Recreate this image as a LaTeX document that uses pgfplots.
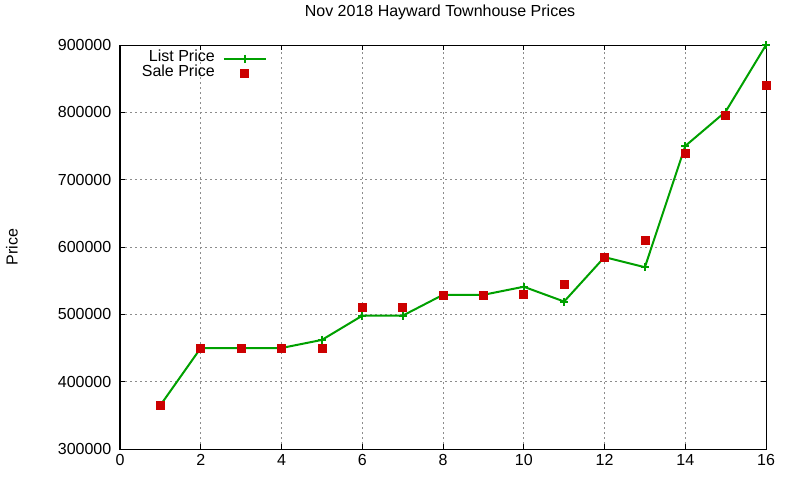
\documentclass[border=0pt]{standalone}
\usepackage{pgfplots}
\pgfplotsset{compat=1.18}
\usepackage{fontspec}
\setmainfont{Liberation Sans}
\definecolor{lgreen}{RGB}{0,160,0}
\definecolor{sred}{RGB}{204,0,0}
\newcommand\cf{\fontsize{12pt}{14pt}\selectfont}
\pgfplotsset{
 legline/.style={legend image code/.code={\draw[##1, mark repeat=2, mark phase=2] plot coordinates {(0pt,0pt) (15.75pt,0pt) (31.5pt,0pt)};}},
 legmark/.style={legend image code/.code={\path[draw=none, fill=none] (0pt,0pt) -- (31.5pt,0pt); \draw[##1] plot[only marks] coordinates {(15.75pt,0pt)};}},
}
\begin{document}
\begin{tikzpicture}
\path[use as bounding box] (0pt,0pt) rectangle (600pt,360pt);
\begin{axis}[
 at={(90pt,23.25pt)}, anchor=south west,
 scale only axis, width=484.5pt, height=303pt,
 xmin=0, xmax=16, ymin=300000, ymax=900000,
 xtick={0,2,...,16}, ytick={300000,400000,...,900000},
 scaled y ticks=false,
 /pgf/number format/assume math mode=true,
 /pgf/number format/fixed,
 /pgf/number format/1000 sep={},
 yticklabel style={xshift=-3pt},
 xticklabel style={yshift=-0.5pt},
 tick label style={font=\cf},
 tick align=inside,
 major tick length=3.5pt,
 tick style={black, line width=0.75pt},
 axis line style={line width=0.75pt},
 grid=major,
 major grid style={color=black!45, dash pattern=on 1.5pt off 2.25pt, line width=0.75pt},
 title={Nov 2018 Hayward Townhouse Prices},
 title style={at={(axis description cs:0.4954,1.0619)}, anchor=center, font=\cf},
 ylabel={Price},
 ylabel style={at={(axis description cs:-0.1672,0.5)}, anchor=center, font=\cf},
 legend cell align=right,
 legend plot pos=right,
 legend style={draw=none, fill=none, inner sep=0pt, at={(axis description cs:0.2276,0.9854)}, anchor=north east, font=\cf, column sep=6pt, row sep=0pt, nodes={inner xsep=0pt, inner ysep=0pt, text height=8pt, text depth=3.25pt}},
 clip=false,
]
\addplot[color=lgreen, line width=1.5pt, mark=+, mark size=3pt, legline]
 coordinates {
 (1,365000) (2,450000) (3,450000) (4,450000) (5,462000) (6,498000) (7,498000) (8,529000)
 (9,529000) (10,541000) (11,519000) (12,585000) (13,570000) (14,750000) (15,801000) (16,900000)
 };
\addlegendentry{List Price}
\addplot[only marks, mark=square*, color=sred, mark size=3pt, legmark]
 coordinates {
 (1,365000) (2,450000) (3,450000) (4,450000) (5,450000) (6,510000) (7,510000) (8,529000)
 (9,529000) (10,530000) (11,545000) (12,585000) (13,610000) (14,739000) (15,796000) (16,840000)
 };
\addlegendentry{Sale Price}
\end{axis}
\end{tikzpicture}
\end{document}
